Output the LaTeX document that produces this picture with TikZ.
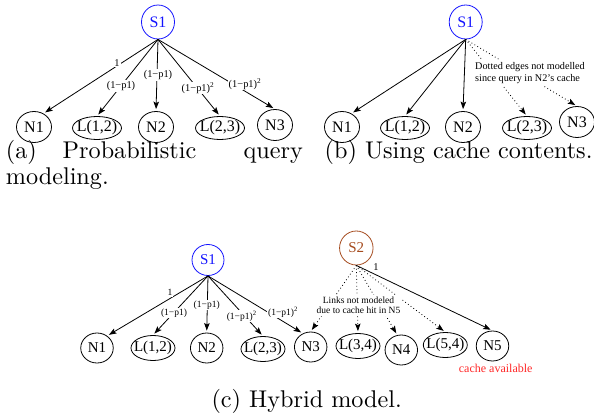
\documentclass[tikz,border=0pt]{standalone}
\usepackage{fontspec}
\newfontfamily\tms{Liberation Serif}
\newfontfamily\capf[Extension=.otf]{lmroman10-regular}
\usetikzlibrary{shapes.geometric,arrows.meta}
\newcommand\ndfont{\tms\fontsize{16}{18}\selectfont}
\newcommand\ndcfont{\tms\fontsize{15}{17}\selectfont}
\newcommand\lbfont{\tms\fontsize{10.4}{12}\selectfont}
\newcommand\lbcfont{\tms\fontsize{9.5}{10.7}\selectfont}
\newcommand\redfont{\tms\fontsize{12}{14}\selectfont}
\newcommand\capfont{\capf\fontsize{24.2}{29}\selectfont}
\newcommand\ntx[1]{\makebox[0pt]{#1}}
\definecolor{srcblue}{RGB}{20,20,255}
\definecolor{sbrown}{RGB}{165,75,30}
\definecolor{cachered}{RGB}{255,40,40}
\tikzset{
  nd/.style={ellipse, draw, line width=0.8pt, font=\ndfont, inner sep=0pt,
             minimum width=35pt, minimum height=31pt},
  lnd/.style={nd, minimum width=49pt, minimum height=23pt},
  ndc/.style={nd, font=\ndcfont, minimum width=32.5pt, minimum height=30pt},
  lndc/.style={ndc, minimum width=44pt, minimum height=25pt},
  src/.style={nd, draw=srcblue, text=srcblue, minimum width=33pt, minimum height=34pt},
  srcc/.style={ndc, draw=srcblue, text=srcblue, minimum width=32pt, minimum height=31pt},
  srcb/.style={ndc, draw=sbrown, text=sbrown, minimum width=33.5pt, minimum height=34pt},
  edge/.style={-{Stealth[length=7.5pt,width=5.5pt,inset=1.5pt]}, line width=0.8pt, shorten >=2pt},
  dotedge/.style={edge, dash pattern=on 0.8pt off 2.6pt},
  lbl/.style={fill=white, inner sep=1pt, font=\lbfont},
  lblc/.style={fill=white, inner sep=1pt, font=\lbcfont},
  captxt/.style={inner sep=0pt, font=\capfont}
}
\begin{document}
\begin{tikzpicture}[x=1pt,y=-1pt]
\useasboundingbox (0,0) rectangle (594,415);

% ---------- panel (a)
\node[src] (aS1) at (158,22) {\ntx{S1}};
\node[nd]  (aN1) at (34,127) {\ntx{N1}};
\node[lnd] (aL12) at (97,128) {\ntx{L(1,2)}};
\node[nd]  (aN2) at (156,127) {\ntx{N2}};
\node[lnd] (aL23) at (220,128) {\ntx{L(2,3)}};
\node[nd]  (aN3) at (275,125) {\ntx{N3}};
\draw[edge] (aS1.south) -- (aN1.55);
\draw[edge] (aS1.south) -- (aL12.north);
\draw[edge] (aS1.south) -- (aN2.north);
\draw[edge] (aS1.south) -- (aL23.north);
\draw[edge] (aS1.south) -- (aN3.north);
\node[lbl] (al1) at (117,63) {1};
\node[lbl] (al2) at (121,86) {(1−p1)};
\node[lbl] (al3) at (158,75) {(1−p1)};
\node[lbl] (al4) at (198,88) {(1−p1)\textsuperscript{2}};
\node[lbl] (al5) at (245,84) {(1−p1)\textsuperscript{2}};

% ---------- panel (b)
\node[src] (bS1) at (465.7,22) {\ntx{S1}};
\node[nd]  (bN1) at (342,127) {\ntx{N1}};
\node[lnd] (bL12) at (405,128) {\ntx{L(1,2)}};
\node[nd]  (bN2) at (463,127) {\ntx{N2}};
\node[lnd] (bL23) at (527,128) {\ntx{L(2,3)}};
\node[nd]  (bN3) at (577,122) {\ntx{N3}};
\draw[edge] (bS1.south) -- (bN1.55);
\draw[edge] (bS1.south) -- (bL12.north);
\draw[edge] (bS1.south) -- (bN2.north);
\draw[dotedge] (bS1.south) -- (bL23.north);
\draw[dotedge] (bS1.south) -- (bN3.north);
\node[lbl, anchor=west, align=left, inner sep=2pt, font=\tms\fontsize{10.2}{12.3}\selectfont]
  (bnote) at (473,72.9) {Dotted edges not modelled\\since query in N2’s cache};

% ---------- panel (c)
\node[srcc] (cS1) at (208,260) {\ntx{S1}};
\node[srcb] (cS2) at (356.3,248) {\ntx{S2}};
\node[ndc]  (cN1) at (97,348) {\ntx{N1}};
\node[lndc] (cL12) at (153,348) {\ntx{L(1,2)}};
\node[ndc]  (cN2) at (206.7,348) {\ntx{N2}};
\node[lndc] (cL23) at (263,349) {\ntx{L(2,3)}};
\node[ndc]  (cN3) at (310.7,347) {\ntx{N3}};
\node[lndc] (cL34) at (358,346) {\ntx{L(3,4)}};
\node[ndc]  (cN4) at (401.3,350) {\ntx{N4}};
\node[lndc] (cL54) at (445.3,345) {\ntx{L(5,4)}};
\node[ndc]  (cN5) at (492.5,346) {\ntx{N5}};
\draw[edge] (cS1.south) -- (cN1.50);
\draw[edge] (cS1.south) -- (cL12.north);
\draw[edge] (cS1.south) -- (cN2.north);
\draw[edge] (cS1.south) -- (cL23.north);
\draw[edge] (cS1.south) -- (cN3.120);
\node[lblc] (cl1) at (170,292.7) {1};
\node[lblc] (cl2) at (174,313) {(1−p1)};
\node[lblc] (cl3) at (206.7,305) {(1−p1)};
\node[lblc] (cl4) at (241.7,316) {(1−p1)\textsuperscript{2}};
\node[lblc] (cl5) at (283,312) {(1−p1)\textsuperscript{2}};

\draw[dotedge] (cS2.south) -- (cN3.north);
\draw[dotedge] (cS2.south) -- (cL34.north);
\draw[dotedge] (cS2.south) -- (cN4.105);
\draw[dotedge] (cS2.south) -- (cL54.north);
\draw[edge] (cS2.south) -- (cN5.north);
\node[inner sep=0pt, font=\lbfont] (cone) at (376,266.7) {1};
\node[lblc, align=center, inner sep=2pt] (cnote) at (358.5,305.3)
  {Links not modeled\\due to cache hit in N5};
\node[inner sep=0pt, font=\redfont, text=cachered] (cavail) at (495.7,368) {cache available};

% ---------- captions
\node[captxt, anchor=base west] (capa1) at (5.7,158) {(a)};
\node[captxt, anchor=base west] (capa2) at (62.5,158) {Probabilistic};
\node[captxt, anchor=base east] (capa3) at (303,158) {query};
\node[captxt, anchor=base west] (capa4) at (5.7,184) {modeling.};
\node[captxt, anchor=base west] (capb) at (324.5,158) {(b) Using cache contents.};
\node[captxt] (capc) at (306.7,401.7) {(c) Hybrid model.};
\end{tikzpicture}
\end{document}
